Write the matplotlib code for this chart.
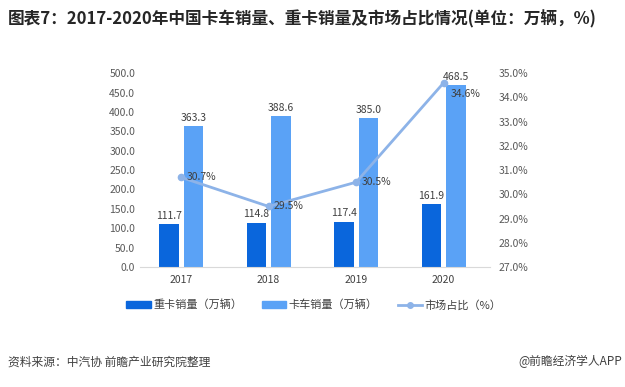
import numpy as np
import matplotlib
matplotlib.use("Agg")
import matplotlib.pyplot as plt
from matplotlib.lines import Line2D
from matplotlib.patches import Patch

plt.rcParams['font.family'] = ['Noto Sans CJK SC', 'DejaVu Sans']

years = ['2017', '2018', '2019', '2020']
heavy = [111.7, 114.8, 117.4, 161.9]
truck = [363.3, 388.6, 385.0, 468.5]
share = [30.7, 29.5, 30.5, 34.6]

c_dark = '#0a66dc'
c_light = '#5aa2f6'
c_line = '#8db3e8'
c_txt = '#595959'

fig = plt.figure(figsize=(6.25, 3.87), dpi=100)
ax = fig.add_axes([0.224, 0.31, 0.56, 0.501])
x = np.arange(len(years))
w = 0.22
ax.bar(x - 0.14, heavy, w, color=c_dark)
ax.bar(x + 0.14, truck, w, color=c_light)
for i in range(len(years)):
    ax.text(x[i] - 0.14, heavy[i] + 8, '%.1f' % heavy[i], ha='center', va='bottom', fontsize=7.5, color='#404040')
    ax.text(x[i] + 0.14, truck[i] + 8, '%.1f' % truck[i], ha='center', va='bottom', fontsize=7.5, color='#404040')
ax.set_ylim(0, 500)
ax.set_yticks(np.arange(0, 501, 50))
ax.set_yticklabels(['%.1f' % v for v in np.arange(0, 501, 50)])
ax.set_xlim(-0.47, 3.53)
ax.set_xticks(x)
ax.set_xticklabels(years)
for s in ['top', 'right', 'left']:
    ax.spines[s].set_visible(False)
ax.spines['bottom'].set_color('#d9d9d9')
ax.tick_params(length=0, labelsize=7.5, colors=c_txt)
ax.tick_params(axis='x', pad=6, colors='#404040')

ax2 = ax.twinx()
ax2.plot(x, share, color=c_line, lw=2, marker='o', ms=4.5)
offs = [(0.0, 0), (0.0, 0), (0.0, 0), (0.02, -0.45)]
for i in range(len(years)):
    ax2.text(x[i] + 0.06 + offs[i][0], share[i] + offs[i][1], '%.1f%%' % share[i], ha='left', va='center', fontsize=7.5, color='#404040')
ax2.set_ylim(27, 35)
ax2.set_yticks(np.arange(27, 35.1, 1))
ax2.set_yticklabels(['%.1f%%' % v for v in np.arange(27, 35.1, 1)])
for s in ['top', 'right', 'left', 'bottom']:
    ax2.spines[s].set_visible(False)
ax2.tick_params(length=0, labelsize=7.5, colors=c_txt, pad=6)

handles = [Patch(color=c_dark), Patch(color=c_light),
           Line2D([0], [0], color=c_line, lw=2, marker='o', ms=4)]
labels = ['重卡销量（万辆）', '卡车销量（万辆）', '市场占比（%）']
fig.legend(handles, labels, loc='center', bbox_to_anchor=(0.502, 0.212), ncol=3, frameon=False,
           fontsize=8, handlelength=2.2, handleheight=0.5, handletextpad=0.2,
           columnspacing=1.8, labelcolor='#404040')

fig.text(0.013, 0.95, '图表7：2017-2020年中国卡车销量、重卡销量及市场占比情况(单位：万辆，%)',
         fontsize=12, fontweight='bold', color='#262626', va='center')
fig.text(0.013, 0.065, '资料来源：中汽协 前瞻产业研究院整理', fontsize=8.5, color='#404040', va='center')
fig.text(0.995, 0.065, '@前瞻经济学人APP', fontsize=8.5, color='#404040', va='center', ha='right')

fig.savefig('out.png', dpi=100)
